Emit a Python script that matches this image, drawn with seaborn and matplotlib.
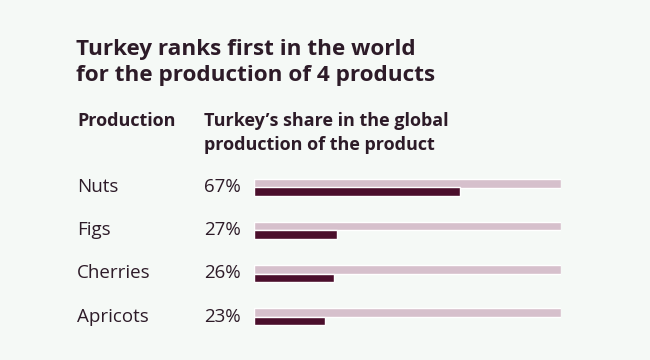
import pandas as pd
import seaborn as sns
import matplotlib
matplotlib.use('Agg')
import matplotlib.pyplot as plt
import matplotlib.transforms as mtransforms

products = ["Nuts", "Figs", "Cherries", "Apricots"]
share = [67, 27, 26, 23]
total = [100, 100, 100, 100]

BG = '#f5f9f6'
TEXT = '#2d1b28'
DARK = '#4b0f2c'
LIGHT = '#d6c0cc'

df = pd.DataFrame({
    "product": products * 2,
    "value": total + share,
    "kind": ["world"] * len(products) + ["turkey"] * len(products),
})

sns.set_theme(style='white')
plt.rcParams['font.family'] = ['Open Sans', 'DejaVu Sans']

W, H = 650, 360
fig = plt.figure(figsize=(W / 100, H / 100), dpi=100, facecolor=BG)


def fx(px):
    return px / W


def fy(py):
    return 1 - py / H


# bar area: 0..100 spans x 254..561 px, rows centred 187..316 px
ax = fig.add_axes([fx(254), fy(338), fx(561) - fx(254), (338 - 166) / H])
ax.set_facecolor(BG)

sns.barplot(data=df, x="value", y="product", hue="kind",
            hue_order=["world", "turkey"], order=products,
            palette={"world": LIGHT, "turkey": DARK},
            dodge=True, width=0.38, saturation=1, legend=False, ax=ax)

ax.set_xlim(0, 100)
ax.set_ylim(3.5, -0.5)
ax.set_xlabel("")
ax.set_ylabel("")
ax.set_xticks([])
ax.set_yticks([])
sns.despine(ax=ax, left=True, bottom=True)

trans = mtransforms.blended_transform_factory(fig.transFigure, ax.transData)
for i, (p, s) in enumerate(zip(products, share)):
    ax.text(fx(77), i, p, transform=trans, ha='left', va='center',
            fontsize=13.5, color=TEXT)
    ax.text(fx(204), i, f"{s}%", transform=trans, ha='left', va='center',
            fontsize=13.5, color=TEXT)

fig.text(fx(76), fy(50), "Turkey ranks first in the world", ha='left', va='center',
         fontsize=16.2, fontweight='bold', color=TEXT)
fig.text(fx(76), fy(76), "for the production of 4 products", ha='left', va='center',
         fontsize=16.2, fontweight='bold', color=TEXT)

fig.text(fx(77), fy(121), "Production", ha='left', va='center',
         fontsize=13, fontweight='bold', color=TEXT)
fig.text(fx(204), fy(121), "Turkey\u2019s share in the global", ha='left', va='center',
         fontsize=13, fontweight='bold', color=TEXT)
fig.text(fx(204), fy(145), "production of the product", ha='left', va='center',
         fontsize=13, fontweight='bold', color=TEXT)

fig.savefig('out.png', dpi=100, facecolor=BG)
